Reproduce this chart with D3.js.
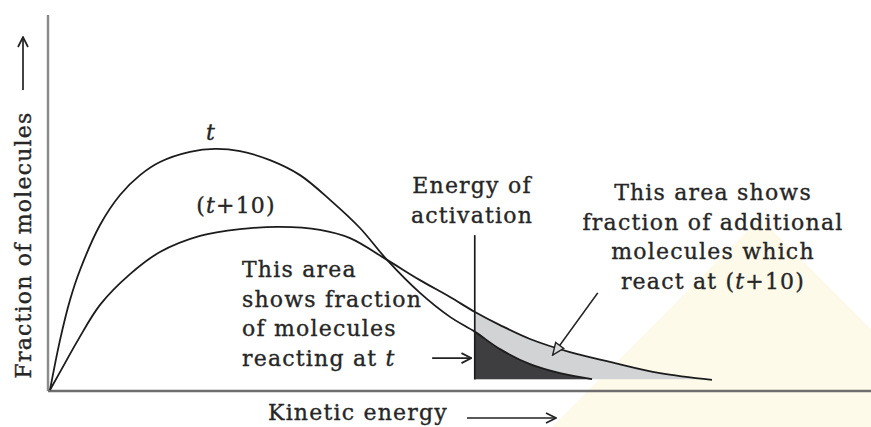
<!DOCTYPE html>
<html>
<head>
<meta charset="utf-8">
<script src="https://cdn.jsdelivr.net/npm/d3@7"></script>
<style>
  body { margin: 0; background: #fff; }
  text { font-family: "DejaVu Serif", serif; fill: #262626; stroke: #262626; stroke-width: 0.35; letter-spacing: 1.2px; }
</style>
</head>
<body>
<svg id="chart"></svg>
<script>
// Maxwell-Boltzmann style curves (arbitrary units 0-100)
const energyT    = [0, 1.22, 2.44, 3.66, 6.10, 8.54, 10.98, 13.41, 17.07, 20.12, 23.17, 26.83, 30.49, 34.15, 37.80, 41.10, 45.12, 48.78, 51.83, 54.88, 58.54, 62.20, 66.10];
const fractionT  = [0, 13.3, 24.0, 32.0, 44.0, 52.0, 57.3, 60.8, 63.5, 64.3, 63.7, 61.3, 57.3, 50.7, 43.2, 34.7, 25.9, 19.5, 15.5, 10.9, 6.9, 4.5, 2.9];
const energyT10   = [0, 1.71, 3.41, 6.10, 9.76, 13.41, 18.29, 23.17, 28.05, 32.93, 36.59, 41.10, 45.12, 48.78, 51.83, 54.88, 58.54, 63.41, 68.29, 74.39, 80.73];
const fractionT10 = [0, 6.7, 13.3, 22.7, 30.9, 36.8, 41.1, 42.9, 43.5, 42.7, 40.5, 34.7, 29.3, 24.8, 20.8, 17.3, 13.6, 10.1, 7.5, 4.5, 2.7];
const activationEnergy = 51.8;
const activationTop = 41.3;
const tailLevel = 2.8;

const width = 871, height = 427;
const svg = d3.select("#chart").attr("width", width).attr("height", height);

const x = d3.scaleLinear().domain([0, 100]).range([50, 870]);
const y = d3.scaleLinear().domain([0, 100]).range([390, 15]);

const curveT   = energyT.map((e, i) => [e, fractionT[i]]);
const curveT10 = energyT10.map((e, i) => [e, fractionT10[i]]);

// faint watermark behind
svg.append("path")
  .attr("d", "M552,427 L760,218 L871,329 L871,427 Z")
  .attr("fill", "#fefaea");

const defs = svg.append("defs");
defs.append("marker").attr("id", "vhead")
  .attr("viewBox", "0 0 12 12").attr("refX", 11).attr("refY", 6)
  .attr("markerWidth", 12).attr("markerHeight", 12)
  .attr("markerUnits", "userSpaceOnUse").attr("orient", "auto")
  .append("path").attr("d", "M1,1 L11,6 L1,11")
  .attr("fill", "none").attr("stroke", "#222").attr("stroke-width", 1.7);
defs.append("marker").attr("id", "thead")
  .attr("viewBox", "0 0 14 12").attr("refX", 13).attr("refY", 6)
  .attr("markerWidth", 14).attr("markerHeight", 12)
  .attr("markerUnits", "userSpaceOnUse").attr("orient", "auto")
  .append("path").attr("d", "M1,1 L13,6 L1,11 Z")
  .attr("fill", "#d9dadc").attr("stroke", "#222").attr("stroke-width", 1.4);
defs.append("clipPath").attr("id", "beyondEa")
  .append("rect")
  .attr("x", x(activationEnergy)).attr("y", 0)
  .attr("width", width - x(activationEnergy)).attr("height", y(tailLevel));

const lineGen = d3.line().x(d => x(d[0])).y(d => y(d[1])).curve(d3.curveCatmullRom.alpha(0.5));
const areaGen = d3.area().x(d => x(d[0])).y0(y(tailLevel)).y1(d => y(d[1])).curve(d3.curveCatmullRom.alpha(0.5));

// shaded areas beyond the activation energy
svg.append("path").datum(curveT10).attr("d", areaGen)
  .attr("fill", "#d2d3d5").attr("clip-path", "url(#beyondEa)");
svg.append("path").datum(curveT).attr("d", areaGen)
  .attr("fill", "#3e3e40").attr("clip-path", "url(#beyondEa)");

// axes
svg.append("line").attr("x1", x(0) - 2).attr("x2", x(0) - 2).attr("y1", 15).attr("y2", y(0) + 1)
  .attr("stroke", "#8c8c8c").attr("stroke-width", 2.5);
svg.append("line").attr("x1", x(0) - 2).attr("x2", width).attr("y1", y(0) + 1).attr("y2", y(0) + 1)
  .attr("stroke", "#6e6e6e").attr("stroke-width", 2.5);

// curves
[curveT, curveT10].forEach(c => {
  svg.append("path").datum(c).attr("d", lineGen)
    .attr("fill", "none").attr("stroke", "#1c1c1c").attr("stroke-width", 1.8);
});

// activation energy line
svg.append("line")
  .attr("x1", x(activationEnergy)).attr("x2", x(activationEnergy))
  .attr("y1", y(activationTop)).attr("y2", y(tailLevel))
  .attr("stroke", "#1c1c1c").attr("stroke-width", 1.7);

// pointer arrows
svg.append("line")
  .attr("x1", x(activationEnergy - 5.2)).attr("x2", x(activationEnergy - 0.4))
  .attr("y1", y(8.5)).attr("y2", y(8.5))
  .attr("stroke", "#222").attr("stroke-width", 1.7).attr("marker-end", "url(#vhead)");
svg.append("line")
  .attr("x1", x(66.8)).attr("y1", y(25.9)).attr("x2", x(61.3)).attr("y2", y(9.3))
  .attr("stroke", "#222").attr("stroke-width", 1.7).attr("marker-end", "url(#thead)");

// axis arrows
svg.append("line").attr("x1", 23).attr("x2", 23).attr("y1", 90).attr("y2", 37)
  .attr("stroke", "#222").attr("stroke-width", 1.7).attr("marker-end", "url(#vhead)");
svg.append("line").attr("x1", 467).attr("x2", 556).attr("y1", 418).attr("y2", 418)
  .attr("stroke", "#222").attr("stroke-width", 1.7).attr("marker-end", "url(#vhead)");

const fs = 22;
// axis titles
svg.append("text").attr("transform", "translate(31,245) rotate(-90)")
  .attr("text-anchor", "middle").attr("font-size", fs).text("Fraction of molecules");
svg.append("text").attr("x", 268).attr("y", 420).attr("font-size", fs).text("Kinetic energy");

// curve labels
svg.append("text").attr("x", 211).attr("y", 140).attr("text-anchor", "middle")
  .attr("font-size", fs).attr("font-style", "italic").text("t");
const lab = svg.append("text").attr("x", 236).attr("y", 213).attr("text-anchor", "middle").attr("font-size", fs);
lab.append("tspan").text("(");
lab.append("tspan").attr("font-style", "italic").text("t");
lab.append("tspan").text("+10)");

function block(lines, xPos, yPos, anchor) {
  const t = svg.append("text").attr("font-size", fs).attr("text-anchor", anchor);
  lines.forEach((ln, i) => {
    const tl = t.append("tspan").attr("x", xPos).attr("y", yPos + i * 29.5);
    ln.forEach(part => tl.append("tspan").attr("font-style", part[1] ? "italic" : null).text(part[0]));
  });
}

block([[["Energy of"]], [["activation"]]], 472, 193, "middle");
block([[["This area shows"]], [["fraction of additional"]], [["molecules which"]],
       [["react at ("], ["t", true], ["+10)"]]], 713, 200, "middle");
block([[["This area"]], [["shows fraction"]], [["of molecules"]],
       [["reacting at "], ["t", true]]], 242, 277, "start");
</script>
</body>
</html>
